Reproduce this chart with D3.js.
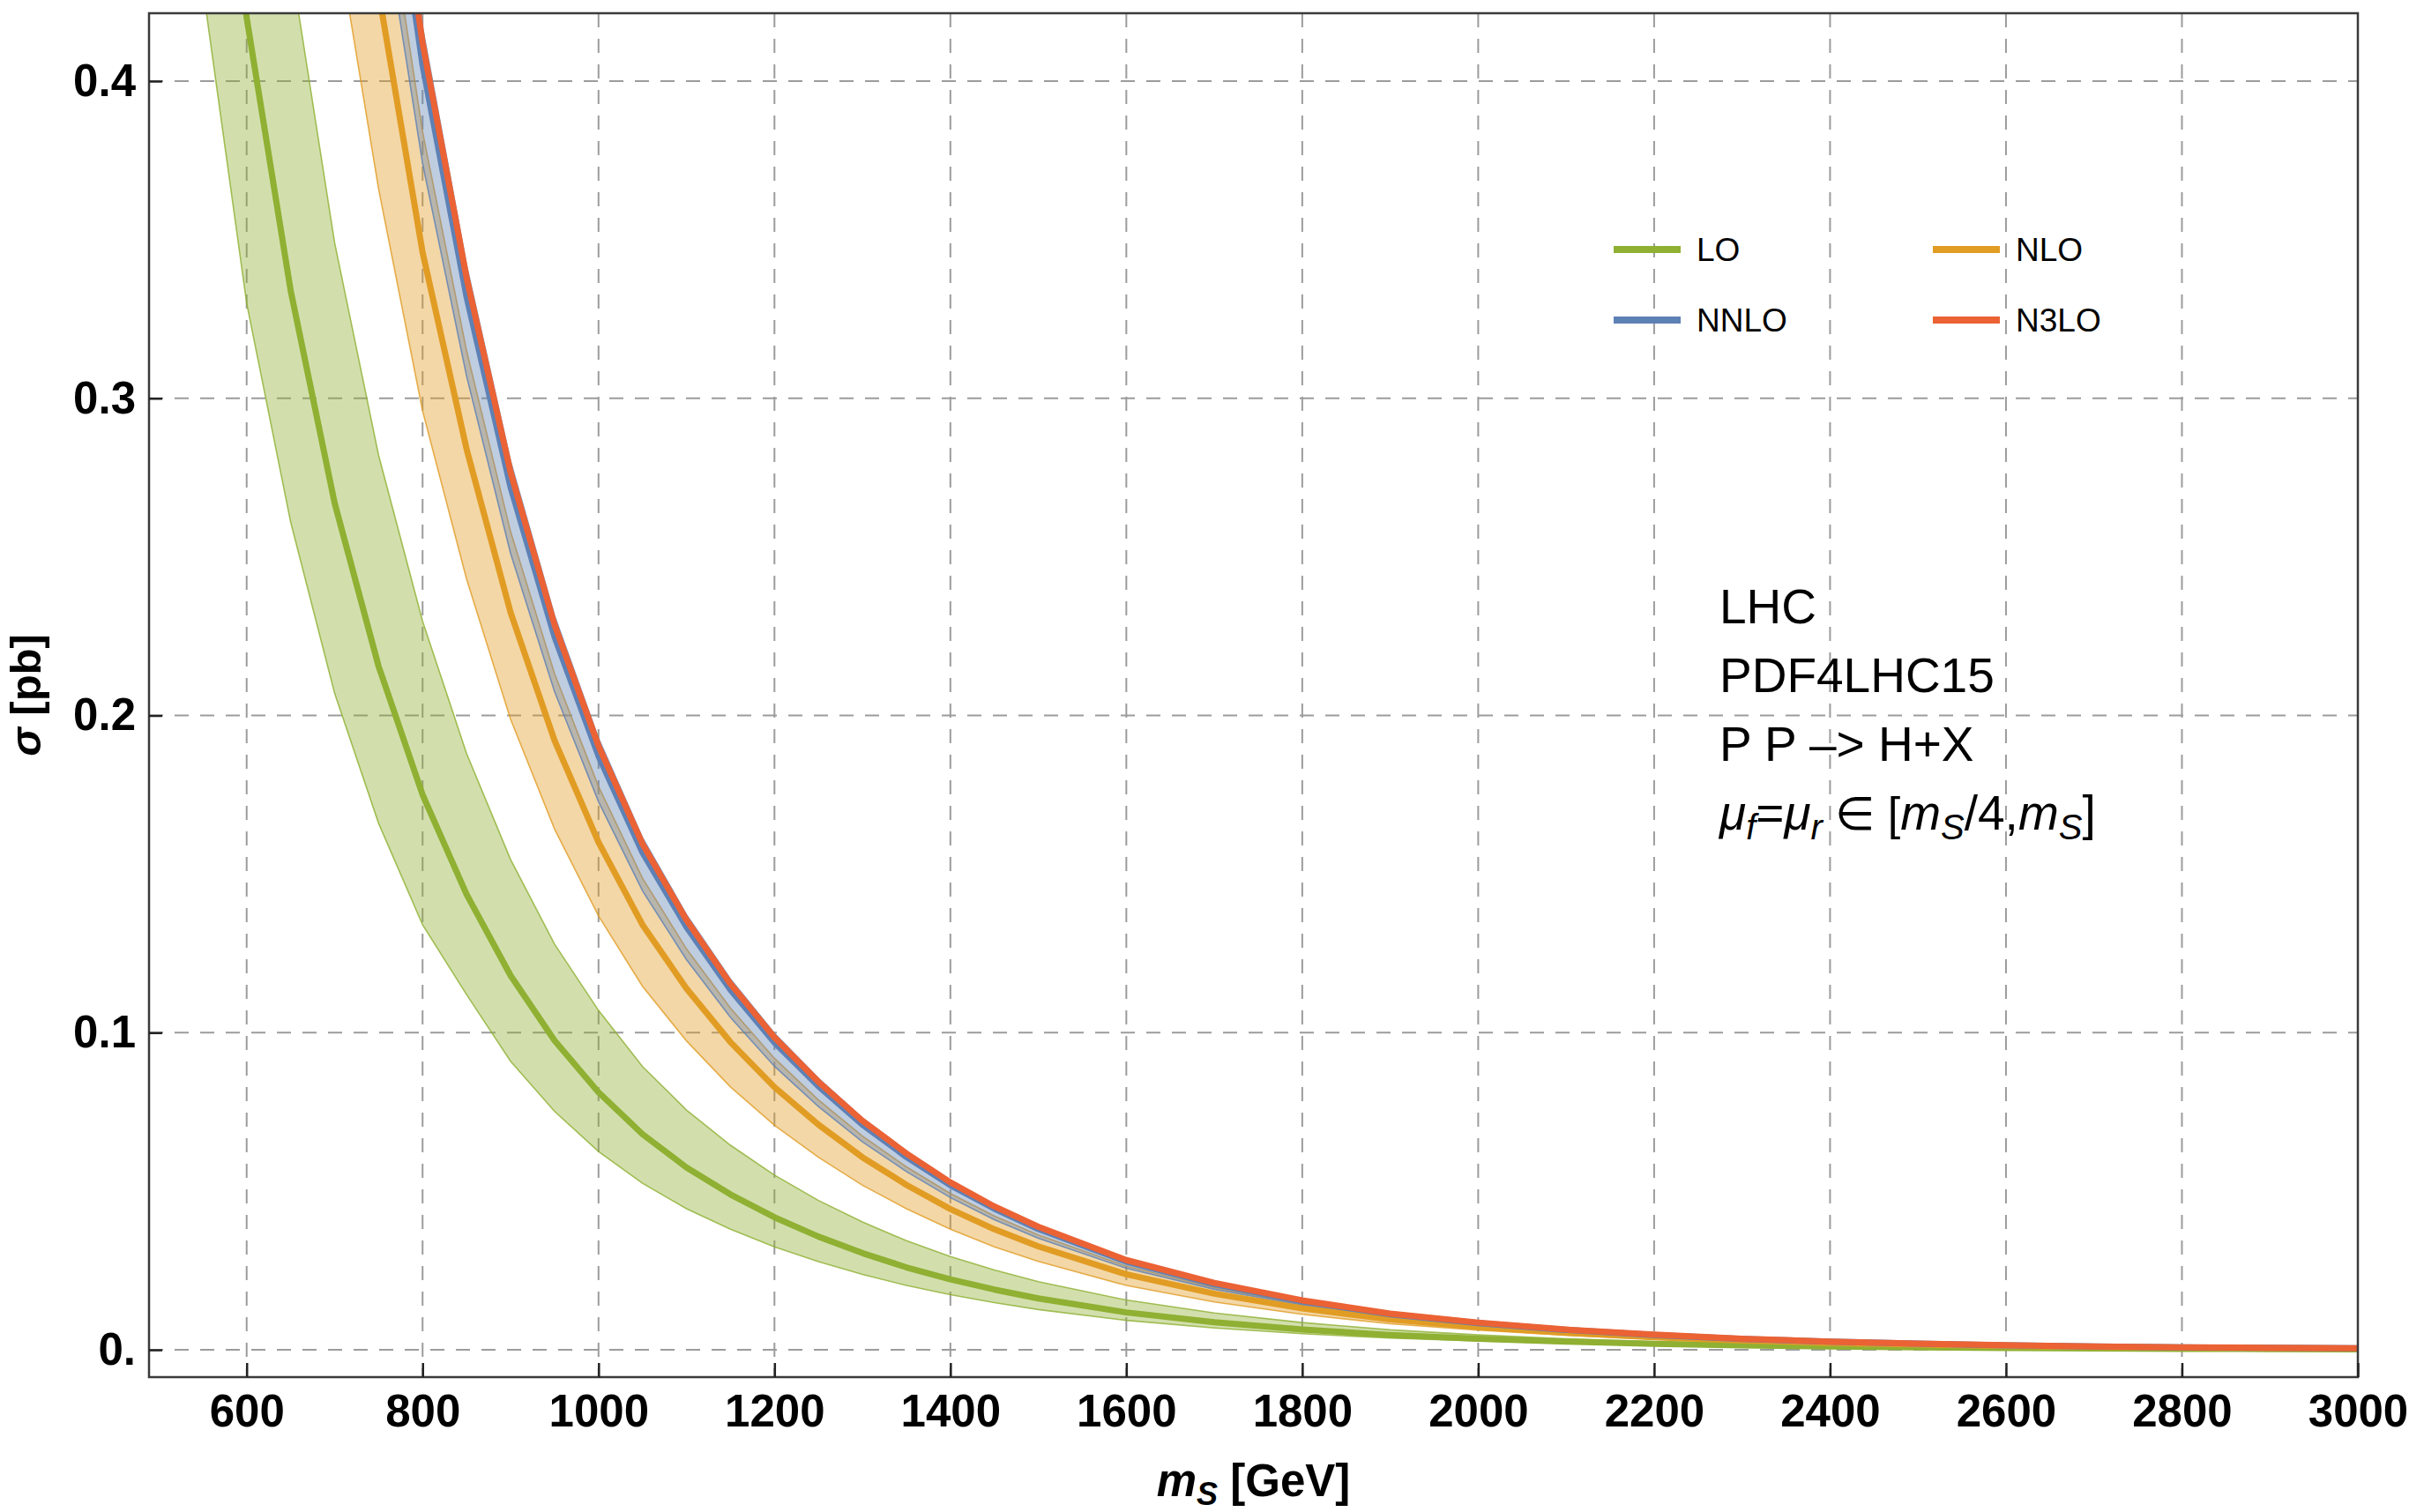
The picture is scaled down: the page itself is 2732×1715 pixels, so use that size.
<!DOCTYPE html>
<html>
<head>
<meta charset="utf-8">
<script src="https://cdn.jsdelivr.net/npm/d3@7"></script>
<style>
  body { margin: 0; background: #fff; }
  svg { display: block; font-family: "Liberation Sans", Arial, sans-serif; }
</style>
</head>
<body>
<div id="chart"></div>
<script>
// Data (sigma in pb vs m_S in GeV)
const massGeV = [550, 600, 650, 700, 750, 800, 850, 900, 950, 1000, 1050, 1100, 1150, 1200, 1250, 1300, 1350, 1400, 1450, 1500,
  1600, 1700, 1800, 1900, 2000, 2100, 2200, 2300, 2400, 2500, 2600, 2700, 2800, 2900, 3000];

const loCentral = [0.545, 0.420, 0.334, 0.267, 0.2155, 0.175, 0.1436, 0.1180, 0.0975, 0.0812, 0.0680, 0.0575, 0.0490, 0.0418, 0.0357, 0.0305, 0.0260, 0.0222, 0.0190, 0.0162,
  0.0118, 0.0087, 0.0064, 0.0047, 0.0035, 0.0026, 0.0019, 0.0014, 0.00105, 0.00078, 0.00058, 0.00043, 0.00032, 0.00024, 0.00018];
const loLow = [0.430, 0.330, 0.261, 0.207, 0.166, 0.134, 0.112, 0.0910, 0.0752, 0.0625, 0.0525, 0.0445, 0.0380, 0.0325, 0.0278, 0.0238, 0.0203, 0.0174, 0.0149, 0.0127,
  0.0093, 0.0069, 0.0051, 0.0037, 0.0028, 0.0021, 0.0015, 0.0011, 0.00083, 0.00062, 0.00046, 0.00034, 0.00025, 0.00019, 0.00014];
const loHigh = [0.714, 0.550, 0.4375, 0.349, 0.282, 0.2297, 0.188, 0.1546, 0.1279, 0.1070, 0.0893, 0.0756, 0.0645, 0.0551, 0.0471, 0.0403, 0.0344, 0.0294, 0.0252, 0.0215,
  0.0157, 0.0116, 0.0086, 0.0063, 0.0047, 0.0035, 0.0026, 0.0019, 0.0014, 0.00105, 0.00078, 0.00058, 0.00043, 0.00032, 0.00024];

const nloCentral = [1.074, 0.827, 0.658, 0.526, 0.428, 0.346, 0.284, 0.2325, 0.1921, 0.160, 0.134, 0.1139, 0.0970, 0.0828, 0.0710, 0.0607, 0.0520, 0.0444, 0.0380, 0.0326,
  0.0238, 0.0177, 0.0131, 0.0096, 0.0072, 0.0054, 0.0040, 0.0029, 0.0022, 0.00165, 0.00123, 0.00092, 0.00068, 0.00052, 0.00040];
const nloLow = [0.918, 0.707, 0.563, 0.450, 0.366, 0.296, 0.243, 0.1988, 0.1642, 0.1368, 0.1146, 0.0974, 0.0829, 0.0708, 0.0607, 0.0519, 0.0445, 0.0380, 0.0325, 0.0279,
  0.0203, 0.0151, 0.0112, 0.0082, 0.0062, 0.0046, 0.0034, 0.0025, 0.0019, 0.0014, 0.00105, 0.00079, 0.00058, 0.00044, 0.00034];
const nloHigh = [1.192, 0.918, 0.730, 0.584, 0.475, 0.384, 0.315, 0.258, 0.2132, 0.1776, 0.1487, 0.1264, 0.1077, 0.0919, 0.0788, 0.0674, 0.0577, 0.0493, 0.0422, 0.0362,
  0.0264, 0.0196, 0.0145, 0.0107, 0.0080, 0.0060, 0.0044, 0.0032, 0.0024, 0.00183, 0.00137, 0.00102, 0.00075, 0.00058, 0.00044];

const nnloCentral = [1.257, 0.968, 0.770, 0.615, 0.501, 0.405, 0.332, 0.2720, 0.2248, 0.1872, 0.1568, 0.1333, 0.1135, 0.0969, 0.0831, 0.0710, 0.0608, 0.0519, 0.0445, 0.0381,
  0.0278, 0.0207, 0.0153, 0.0112, 0.0084, 0.0063, 0.0047, 0.0034, 0.0026, 0.00193, 0.00144, 0.00108, 0.00080, 0.00061, 0.00047];
const nnloLow = [1.160, 0.893, 0.711, 0.568, 0.462, 0.374, 0.307, 0.2511, 0.2075, 0.1728, 0.1447, 0.1230, 0.1048, 0.0894, 0.0767, 0.0656, 0.0562, 0.0480, 0.0410, 0.0352,
  0.0257, 0.0191, 0.0141, 0.0104, 0.0078, 0.0058, 0.0043, 0.0031, 0.0024, 0.00178, 0.00133, 0.00099, 0.00073, 0.00056, 0.00043];
const nnloHigh = [1.294, 0.997, 0.793, 0.634, 0.516, 0.417, 0.342, 0.2802, 0.2315, 0.1928, 0.1615, 0.1372, 0.1169, 0.0998, 0.0856, 0.0731, 0.0627, 0.0535, 0.0458, 0.0393,
  0.0287, 0.0213, 0.0158, 0.0116, 0.0087, 0.0065, 0.0048, 0.0035, 0.0027, 0.00199, 0.00148, 0.00111, 0.00082, 0.00063, 0.00048];

const n3loCentral = [1.278, 0.984, 0.783, 0.626, 0.509, 0.412, 0.338, 0.2767, 0.2286, 0.1904, 0.1595, 0.1355, 0.1154, 0.0985, 0.0845, 0.0722, 0.0619, 0.0528, 0.0452, 0.0388,
  0.0283, 0.0211, 0.0156, 0.0114, 0.0086, 0.0064, 0.0048, 0.0035, 0.0026, 0.00196, 0.00146, 0.00109, 0.00081, 0.00062, 0.00048];
const n3loLow = [1.269, 0.978, 0.778, 0.622, 0.506, 0.409, 0.336, 0.2748, 0.2271, 0.1891, 0.1584, 0.1346, 0.1147, 0.0979, 0.0839, 0.0717, 0.0615, 0.0525, 0.0449, 0.0385,
  0.0281, 0.0209, 0.0155, 0.0113, 0.0085, 0.0064, 0.0047, 0.0034, 0.0026, 0.00195, 0.00145, 0.00109, 0.00080, 0.00061, 0.00047];
const n3loHigh = [1.289, 0.992, 0.790, 0.631, 0.514, 0.415, 0.341, 0.2790, 0.2305, 0.1920, 0.1608, 0.1367, 0.1164, 0.0994, 0.0852, 0.0728, 0.0624, 0.0533, 0.0456, 0.0391,
  0.0286, 0.0212, 0.0157, 0.0115, 0.0086, 0.0065, 0.0048, 0.0035, 0.0026, 0.00198, 0.00148, 0.00110, 0.00082, 0.00062, 0.00048];

const xTicks = [600, 800, 1000, 1200, 1400, 1600, 1800, 2000, 2200, 2400, 2600, 2800, 3000];
const yTicks = [0, 0.1, 0.2, 0.3, 0.4];
const yTickLabels = ['0.', '0.1', '0.2', '0.3', '0.4'];
const legendLabels = ['LO', 'NLO', 'NNLO', 'N3LO'];
const noteLines = ['LHC', 'PDF4LHC15', 'P P \u2013> H+X'];

// Mathematica-like palette
const colors = { LO: '#8fb032', NLO: '#e19c24', NNLO: '#5e81b5', N3LO: '#eb6235' };

const series = [
  { name: 'LO', central: loCentral, low: loLow, high: loHigh },
  { name: 'NLO', central: nloCentral, low: nloLow, high: nloHigh },
  { name: 'NNLO', central: nnloCentral, low: nnloLow, high: nnloHigh },
  { name: 'N3LO', central: n3loCentral, low: n3loLow, high: n3loHigh }
];

const width = 2732, height = 1715;
const plot = { left: 169, right: 2674, top: 15, bottom: 1562 };

const x = d3.scaleLinear().domain([489, 3000]).range([plot.left, plot.right]);
const y = d3.scaleLinear().domain([-0.0086, 0.4214]).range([plot.bottom, plot.top]);

const svg = d3.select('#chart').append('svg')
  .attr('width', width)
  .attr('height', height);

svg.append('defs').append('clipPath')
  .attr('id', 'plot-clip')
  .append('rect')
  .attr('x', plot.left)
  .attr('y', plot.top)
  .attr('width', plot.right - plot.left)
  .attr('height', plot.bottom - plot.top);

// Dashed grid lines
const grid = svg.append('g');
grid.selectAll('.vgrid').data(xTicks).enter().append('line')
  .attr('x1', d => x(d)).attr('x2', d => x(d))
  .attr('y1', plot.top).attr('y2', plot.bottom)
  .attr('stroke', '#9c9c9c').attr('stroke-width', 2)
  .attr('stroke-dasharray', '16,13');
grid.selectAll('.hgrid').data(yTicks).enter().append('line')
  .attr('x1', plot.left).attr('x2', plot.right)
  .attr('y1', d => y(d)).attr('y2', d => y(d))
  .attr('stroke', '#9c9c9c').attr('stroke-width', 2)
  .attr('stroke-dasharray', '16,13');

// Bands and central lines
const plotArea = svg.append('g').attr('clip-path', 'url(#plot-clip)');

series.forEach(s => {
  const pts = massGeV.map((m, i) => ({ m: m, lo: s.low[i], hi: s.high[i] }));
  const area = d3.area()
    .x(d => x(d.m))
    .y0(d => y(d.lo))
    .y1(d => y(d.hi));
  plotArea.append('path')
    .datum(pts)
    .attr('d', area)
    .attr('fill', colors[s.name])
    .attr('fill-opacity', 0.4);
  ['lo', 'hi'].forEach(k => {
    plotArea.append('path')
      .datum(pts)
      .attr('d', d3.line().x(d => x(d.m)).y(d => y(d[k])))
      .attr('fill', 'none')
      .attr('stroke', colors[s.name])
      .attr('stroke-opacity', 0.8)
      .attr('stroke-width', 1.6);
  });
});

series.forEach(s => {
  const pts = massGeV.map((m, i) => ({ m: m, v: s.central[i] }));
  plotArea.append('path')
    .datum(pts)
    .attr('d', d3.line().x(d => x(d.m)).y(d => y(d.v)))
    .attr('fill', 'none')
    .attr('stroke', colors[s.name])
    .attr('stroke-width', 7)
    .attr('stroke-linejoin', 'round');
});

// Frame
svg.append('rect')
  .attr('x', plot.left).attr('y', plot.top)
  .attr('width', plot.right - plot.left)
  .attr('height', plot.bottom - plot.top)
  .attr('fill', 'none')
  .attr('stroke', '#3a3a3a')
  .attr('stroke-width', 2.5);

// Axes
const xAxis = svg.append('g')
  .attr('transform', `translate(0,${plot.bottom})`)
  .call(d3.axisBottom(x).tickValues(xTicks).tickSize(-16).tickPadding(20).tickFormat(d3.format('d')));
const yAxis = svg.append('g')
  .attr('transform', `translate(${plot.left},0)`)
  .call(d3.axisLeft(y).tickValues(yTicks).tickSize(-15).tickPadding(15).tickFormat((d, i) => yTickLabels[i]));

[xAxis, yAxis].forEach(ax => {
  ax.select('.domain').remove();
  ax.selectAll('.tick line').attr('stroke', '#222').attr('stroke-width', 2.5);
  ax.selectAll('.tick text')
    .attr('fill', '#000')
    .style('font-family', '"Liberation Sans", Arial, sans-serif')
    .style('font-weight', 'bold')
    .style('font-size', '51px');
});

// Axis titles
const xTitle = svg.append('text')
  .attr('x', (plot.left + plot.right) / 2)
  .attr('y', 1697)
  .attr('text-anchor', 'middle')
  .style('font-weight', 'bold')
  .style('font-size', '51px');
xTitle.append('tspan').style('font-style', 'italic').text('m');
xTitle.append('tspan').style('font-style', 'italic').style('font-size', '36px').attr('dy', 10).text('S');
xTitle.append('tspan').attr('dy', -10).text(' [GeV]');

svg.append('text')
  .attr('transform', `translate(46,${(plot.top + plot.bottom) / 2}) rotate(-90)`)
  .attr('text-anchor', 'middle')
  .style('font-weight', 'bold')
  .style('font-size', '49px')
  .html('<tspan font-style="italic">\u03c3</tspan> [pb]');

// Legend (2 x 2)
const legendPos = [
  { lx: 1830, ly: 283 }, { lx: 2192, ly: 283 },
  { lx: 1830, ly: 363 }, { lx: 2192, ly: 363 }
];
const legend = svg.append('g');
legendLabels.forEach((name, i) => {
  const p = legendPos[i];
  legend.append('line')
    .attr('x1', p.lx).attr('x2', p.lx + 76)
    .attr('y1', p.ly).attr('y2', p.ly)
    .attr('stroke', colors[name])
    .attr('stroke-width', 8);
  legend.append('text')
    .attr('x', p.lx + 94)
    .attr('y', p.ly + 13)
    .style('font-size', '37px')
    .attr('fill', '#000')
    .text(name);
});

// Annotation block
const note = svg.append('g').style('font-size', '55px').attr('fill', '#000');
noteLines.forEach((t, i) => {
  note.append('text').attr('x', 1950).attr('y', 707 + i * 78).text(t);
});
const muLine = note.append('text').attr('x', 1950).attr('y', 941);
const addSpan = (txt, italic, sub) => {
  const sp = muLine.append('tspan').text(txt);
  if (italic) sp.style('font-style', 'italic');
  if (sub) sp.style('font-size', '40px').attr('dy', 11);
  return sp;
};
addSpan('\u03bc', true, false);
addSpan('f', true, true);
addSpan('=', false, false).attr('dy', -11);
addSpan('\u03bc', true, false);
addSpan('r', true, true);
addSpan(' \u2208 [', false, false).attr('dy', -11).style('font-size', '52px');
addSpan('m', true, false);
addSpan('S', true, true);
addSpan('/4,', false, false).attr('dy', -11);
addSpan('m', true, false);
addSpan('S', true, true);
addSpan(']', false, false).attr('dy', -11);
</script>
</body>
</html>
